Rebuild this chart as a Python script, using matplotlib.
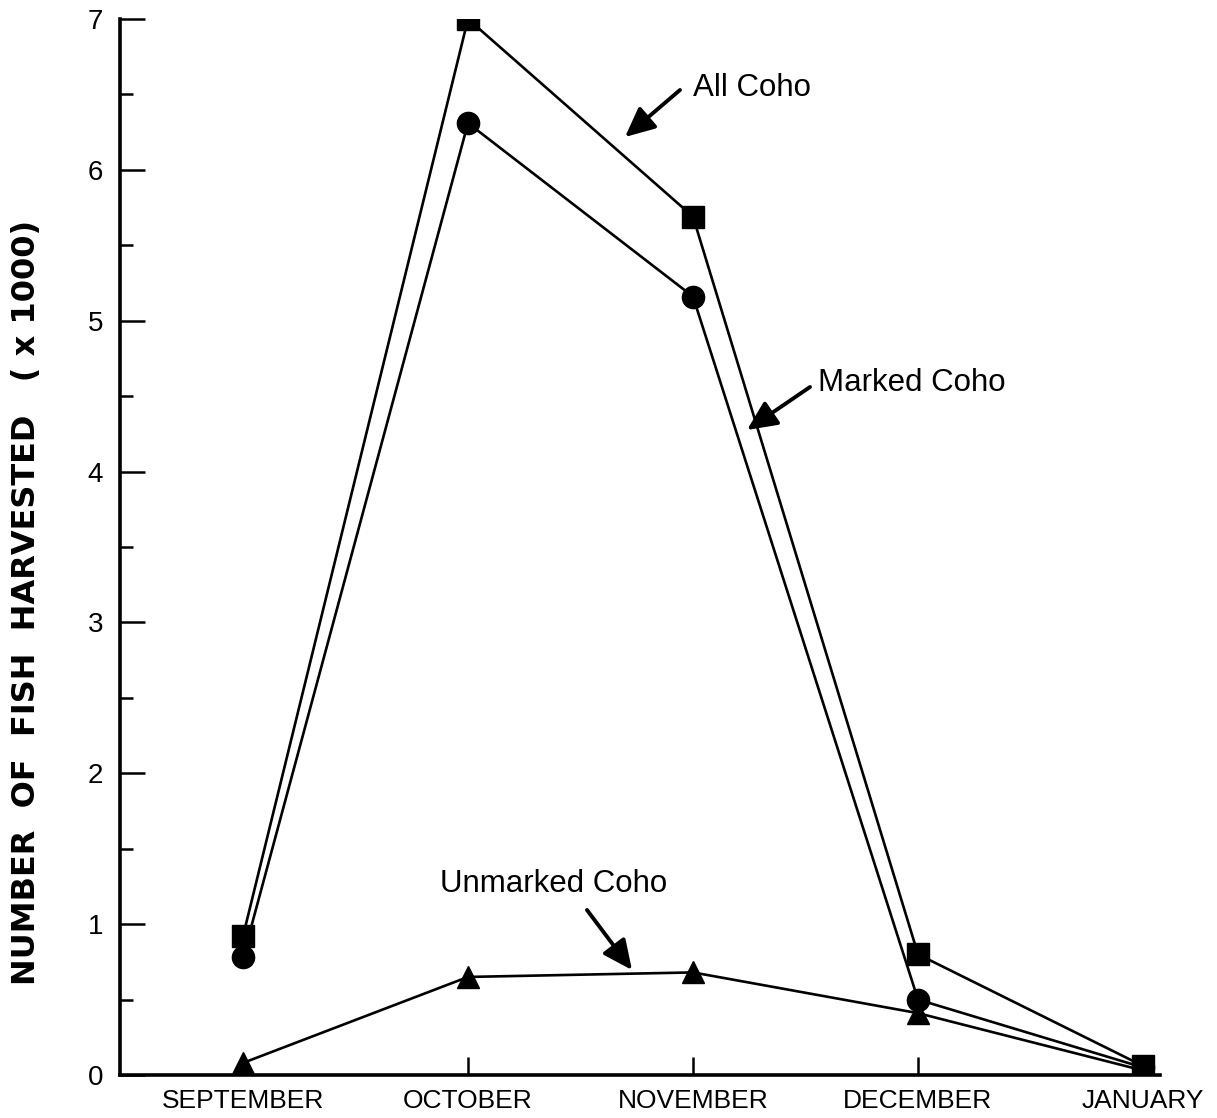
import matplotlib
matplotlib.use("Agg")
import matplotlib.pyplot as plt

months = ["SEPTEMBER", "OCTOBER", "NOVEMBER", "DECEMBER", "JANUARY"]
all_coho = [0.92, 7.0, 5.69, 0.80, 0.06]
marked_coho = [0.78, 6.31, 5.16, 0.50, 0.05]
unmarked_coho = [0.08, 0.65, 0.68, 0.41, 0.03]

plt.rcParams['font.family'] = ['Liberation Sans', 'DejaVu Sans']

W, H = 1217, 1118
fig = plt.figure(figsize=(W / 100, H / 100), dpi=100)
ax = fig.add_axes([120 / W, 1 - 1075 / H, (1160 - 120) / W, (1075 - 19) / H])

x = list(range(len(months)))
lw = 1.9
ax.plot(x, all_coho, color='k', lw=lw, marker='s', ms=16, zorder=3)
ax.plot(x, marked_coho, color='k', lw=lw, marker='o', ms=16, zorder=3)
ax.plot(x, unmarked_coho, color='k', lw=lw, marker='^', ms=16, zorder=3)

ax.set_xlim(-123 / 225, (1160 - 243) / 225)
ax.set_ylim(0, 7)

for side in ['top', 'right']:
    ax.spines[side].set_visible(False)
for side in ['left', 'bottom']:
    ax.spines[side].set_linewidth(2.6)

ax.set_xticks(x)
ax.set_xticklabels(months, fontsize=19)
ax.set_yticks(range(0, 8))
ax.set_yticks([i + 0.5 for i in range(7)], minor=True)
ax.tick_params(axis='y', which='major', direction='in', length=18, width=1.8, labelsize=20, pad=12)
ax.tick_params(axis='y', which='minor', direction='in', length=9, width=1.8)
ax.tick_params(axis='x', which='major', direction='in', length=13, width=1.8, pad=10)

fig.text(27 / W, 1 - 602 / H, "NUMBER  OF  FISH  HARVESTED   ( x 1000)",
         rotation=90, ha='center', va='center', fontsize=23, fontweight='bold',
         family=['DejaVu Sans'])


def to_data(px, py):
    # pixel position in the picture -> data coordinates
    return ((px - 243) / 225, (1075 - py) / (1056 / 7))


arrow = dict(arrowstyle='-|>,head_length=0.6,head_width=0.28', color='k',
             lw=2.8, mutation_scale=30, shrinkA=0, shrinkB=0)
labels = [
    ("All Coho", (693, 88), (680, 90), (625, 137)),
    ("Marked Coho", (818, 383), (810, 387), (747, 430)),
    ("Unmarked Coho", (440, 884), (587, 910), (632, 970)),
]
for text, tpos, tail, head in labels:
    ax.text(*to_data(*tpos), text, fontsize=22.5, ha='left', va='center')
    ax.annotate("", xy=to_data(*head), xytext=to_data(*tail), arrowprops=arrow)

fig.savefig("out.png", dpi=100)
